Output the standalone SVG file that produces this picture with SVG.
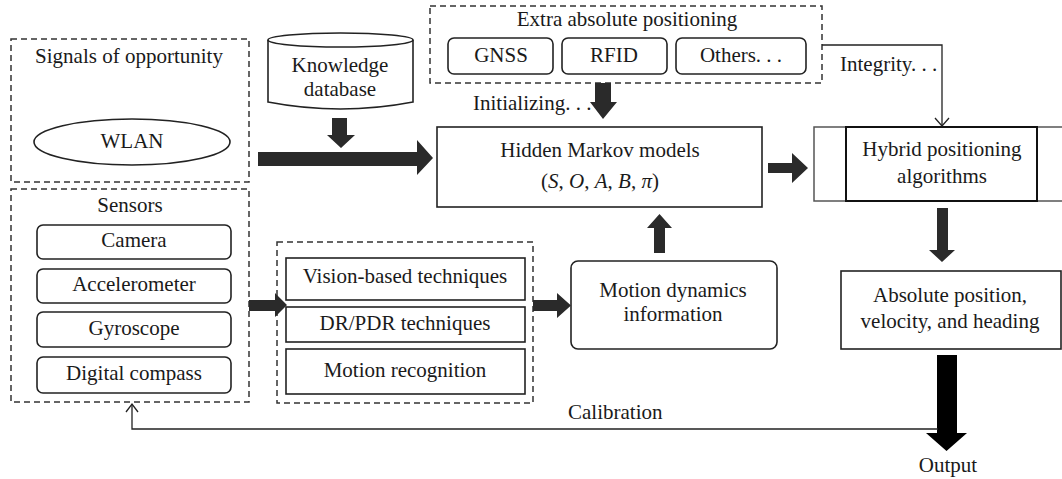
<svg xmlns="http://www.w3.org/2000/svg" width="1062" height="479" viewBox="0 0 1062 479">
<style>
text{font-size:21px;fill:#1a1a1a;text-anchor:middle}
.l{text-anchor:start}
.dash{fill:none;stroke:#333;stroke-width:1.5;stroke-dasharray:6 4}
.box{fill:#fff;stroke:#222;stroke-width:1.6}
.arr{fill:#2a2a2a;stroke:none}
.thin{fill:none;stroke:#222;stroke-width:1.3}
</style>
<rect width="1062" height="479" fill="#fff"/>
<g font-family="Liberation Serif, DejaVu Serif, serif">
<g id="signals">
<rect class="dash" x="11" y="39" width="238" height="143"/>
<text x="129" y="63">Signals of opportunity</text>
<ellipse class="box" cx="132" cy="142" rx="98" ry="23" stroke-width="1.3"/>
<text x="132" y="148">WLAN</text>
</g>
<g id="sensors">
<rect class="dash" x="11" y="189" width="238" height="213"/>
<text x="130" y="212">Sensors</text>
<rect class="box" x="37" y="225" width="194" height="34" rx="6"/>
<text x="134" y="247">Camera</text>
<rect class="box" x="37" y="269" width="194" height="34" rx="6"/>
<text x="134" y="291">Accelerometer</text>
<rect class="box" x="37" y="312" width="194" height="35" rx="6"/>
<text x="134" y="335">Gyroscope</text>
<rect class="box" x="37" y="357" width="194" height="36" rx="6"/>
<text x="134" y="380">Digital compass</text>
</g>
<g id="knowledge">
<path class="box" d="M268,40 L268,102 Q340.5,116 413,102 L413,40"/>
<ellipse class="box" cx="340.5" cy="40" rx="72.5" ry="7"/>
<text x="340" y="72">Knowledge</text>
<text x="340" y="96">database</text>
</g>
<g id="extra">
<rect class="dash" x="430" y="6" width="392" height="77"/>
<text x="627" y="26">Extra absolute positioning</text>
<rect class="box" x="448" y="38" width="105" height="36" rx="6"/>
<text x="501" y="62">GNSS</text>
<rect class="box" x="562" y="38" width="105" height="36" rx="6"/>
<text x="614" y="62">RFID</text>
<rect class="box" x="676" y="38" width="130" height="36" rx="6"/>
<text x="741" y="62">Others. . .</text>
</g>
<g id="hmm">
<rect class="box" x="437" y="127" width="325" height="80"/>
<text x="600" y="157">Hidden Markov models</text>
<text x="600" y="188">(<tspan font-style="italic">S</tspan>, <tspan font-style="italic">O</tspan>, <tspan font-style="italic">A</tspan>, <tspan font-style="italic">B</tspan>, <tspan font-style="italic">π</tspan>)</text>
</g>
<g id="hybrid">
<rect x="814" y="127" width="260" height="74" fill="#fff" stroke="#555" stroke-width="1.5"/>
<rect x="846" y="127" width="191" height="74" fill="none" stroke="#111" stroke-width="2"/>
<text x="942" y="156">Hybrid positioning</text>
<text x="942" y="183">algorithms</text>
</g>
<g id="techniques">
<rect class="dash" x="277" y="242" width="256" height="161"/>
<rect class="box" x="286" y="258" width="239" height="42"/>
<text x="405" y="283">Vision-based techniques</text>
<rect class="box" x="286" y="307" width="239" height="35"/>
<text x="405" y="330">DR/PDR techniques</text>
<rect class="box" x="286" y="349" width="239" height="45"/>
<text x="405" y="377">Motion recognition</text>
</g>
<g id="motion">
<rect class="box" x="571" y="261" width="206" height="88" rx="7"/>
<text x="673" y="297">Motion dynamics</text>
<text x="673" y="321">information</text>
</g>
<g id="absolute">
<rect class="box" x="841" y="271" width="220" height="78"/>
<text x="950" y="302">Absolute position,</text>
<text x="950" y="328">velocity, and heading</text>
</g>
<g id="output">
<text x="948" y="472">Output</text>
</g>
<g id="connectors">
<polygon class="arr" points="258,152 417,152 417,140 433,158 417,175 417,166 258,166"/>
<polygon class="arr" points="332,118 347,118 347,135 355,135 341,148 327,135 332,135"/>
<polygon class="arr" points="595,83 611,83 611,102 617,102 603,119 590,102 595,102"/>
<polygon class="arr" points="768,163 792,163 792,153 808,168 792,183 792,173 768,173"/>
<polygon class="arr" points="654,253 665,253 665,228 672,228 659.5,214 647,228 654,228"/>
<polygon class="arr" points="249,300 275,300 275,293 287,305 275,317 275,311 249,311"/>
<polygon class="arr" points="533,300 557,300 557,293 571,305.5 557,318 557,311 533,311"/>
<polygon class="arr" points="937,208 948,208 948,250 955,250 942,262 929,250 937,250"/>
<polygon points="937,355 957,355 957,433 967,433 946.5,451 926,433 937,433" fill="#000"/>
<polyline class="thin" points="822,45 942,45 942,126"/>
<polyline class="thin" points="935,118 942,126 949,118"/>
<text class="l" x="840" y="71">Integrity. . .</text>
<text class="l" x="473" y="110">Initializing. . .</text>
<polyline class="thin" points="938,429 132,429 132,404"/>
<polyline class="thin" points="126,412 132,404 138,412"/>
<text class="l" x="568" y="419">Calibration</text>
</g>
</g>
</svg>
